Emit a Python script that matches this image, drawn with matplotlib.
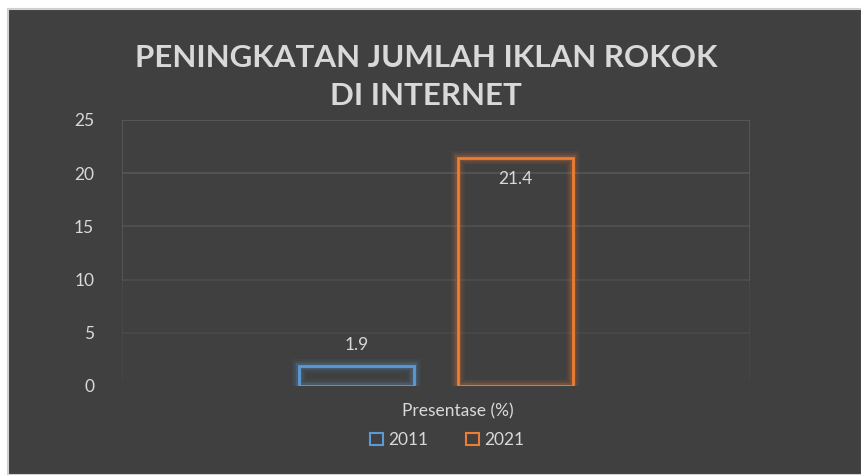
import matplotlib
matplotlib.use("Agg")
import matplotlib.pyplot as plt
import matplotlib.patheffects as pe
from matplotlib.patches import Rectangle, Patch

# data
years   = ["2011", "2021"]
values  = [1.9, 21.4]
colors  = ["#5B9BD5", "#ED7D31"]
yticks  = [0, 5, 10, 15, 20, 25]
title   = "PENINGKATAN JUMLAH IKLAN ROKOK\nDI INTERNET"
xlabel  = "Presentase (%)"

BG   = "#404040"
TXT  = "#D9D9D9"

plt.rcParams['font.family'] = ['Lato', 'DejaVu Sans']

W, H = 862, 475
fig = plt.figure(figsize=(W / 100, H / 100), dpi=100, facecolor="white")
# dark chart area with thin light border
fig.patches.append(Rectangle((8 / W, 0), 1 - 8 / W, 1 - 9 / H, transform=fig.transFigure,
                             facecolor=BG, edgecolor="#D0D0D0", linewidth=1.5, zorder=-10))

ax = fig.add_axes([122 / W, (H - 386) / H, (750 - 122) / W, (386 - 120) / H])
ax.set_facecolor("none")
for s in ax.spines.values():
    s.set_visible(False)

# gridlines fading toward the bottom
for yv in yticks[1:]:
    a = 0.2 + 0.8 * (yv / 25.0)
    ax.axhline(yv, color="#5A5A5A", lw=1.2, alpha=a, zorder=1)
for xe in (-1.975, 1.975):
    ax.axvline(xe, color="#5A5A5A", lw=1.2, zorder=1, ymin=0.4, ymax=1)
    ax.axvline(xe, color="#5A5A5A", lw=1.2, alpha=0.35, zorder=1, ymin=0.03, ymax=0.4)

xpos = [-0.5, 0.5]
for x, v, c in zip(xpos, values, colors):
    b = ax.bar(x, v, width=0.72, facecolor="none", edgecolor=c, linewidth=2, zorder=3)
    b[0].set_path_effects([pe.Stroke(linewidth=10, foreground=c, alpha=0.06),
                           pe.Stroke(linewidth=7, foreground=c, alpha=0.10),
                           pe.Stroke(linewidth=4.5, foreground=c, alpha=0.18),
                           pe.Normal()])

# data labels
ax.text(xpos[0], values[0] + 1.2, f"{values[0]}", ha="center", va="bottom",
        color=TXT, fontsize=12.5)
ax.text(xpos[1], values[1] - 1.2, f"{values[1]}", ha="center", va="top",
        color=TXT, fontsize=12.5)

ax.set_xlim(-1.975, 1.975)
ax.set_ylim(0, 25)
ax.set_yticks(yticks)
ax.set_xticks([])
ax.tick_params(axis="y", length=0, pad=20, labelcolor=TXT, labelsize=12.5)

fig.text(426 / W, 1 - 77 / H, title, ha="center", va="center", color=TXT,
         fontsize=22.5, fontweight="bold", linespacing=1.45)
fig.text(458 / W, 1 - 411 / H, xlabel, ha="center", va="center", color=TXT, fontsize=12.5)

handles = [Patch(facecolor="none", edgecolor=c, linewidth=1.5, label=y)
           for y, c in zip(years, colors)]
fig.legend(handles=handles, loc="center", bbox_to_anchor=(447 / W, 1 - 440 / H),
           ncol=2, frameon=False, fontsize=12.5, labelcolor=TXT,
           handlelength=0.75, handleheight=0.75, handletextpad=0.3, columnspacing=2.2)

fig.savefig("out.png", dpi=100, facecolor="white")
